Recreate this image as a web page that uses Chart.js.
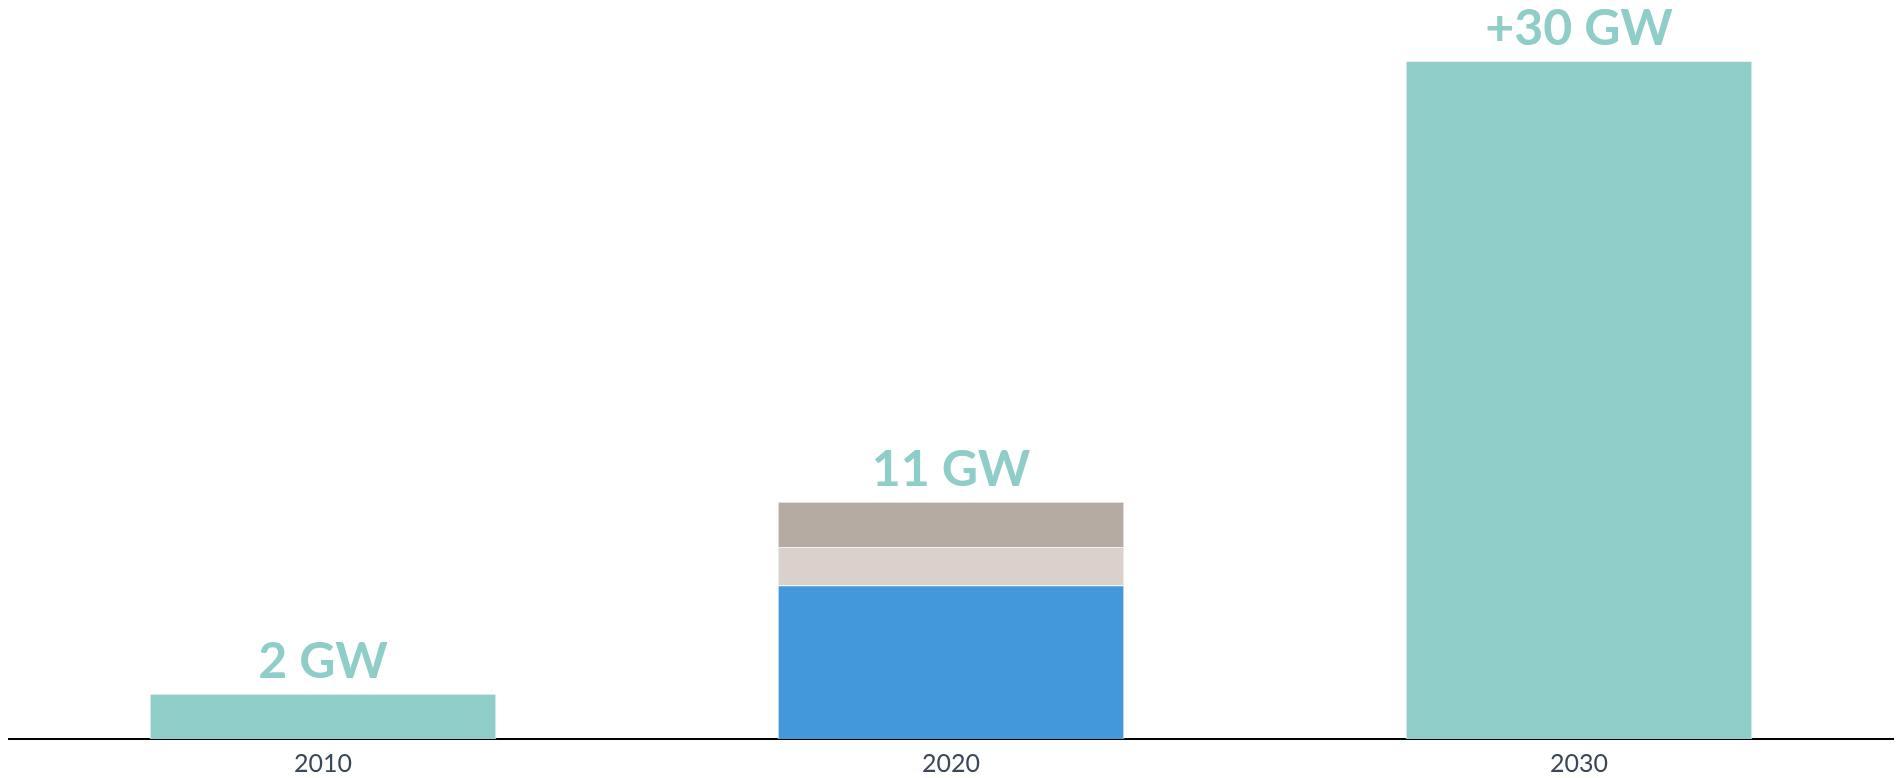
<!DOCTYPE html>
<html>
<head>
<meta charset="utf-8">
<script src="https://cdn.jsdelivr.net/npm/chart.js@4"></script>
<style>
  html, body { margin: 0; padding: 0; background: #ffffff; }
  #wrap { width: 1901px; height: 778px; position: relative; }
</style>
</head>
<body>
<div id="wrap"><canvas id="capacityChart"></canvas></div>
<script>
// chart values
const years = ['2010', '2020', '2030'];
const baseValues = [2, 6.8, 30];
const midValues = [null, 1.7, null];
const topValues = [null, 2.0, null];
const totalLabels = ['2 GW', '11 GW', '+30 GW'];

const teal = '#8fcdc8';
const blue = '#4298da';

// writes the GW total above each stack
const totalsPlugin = {
  id: 'totals',
  afterDatasetsDraw(chart) {
    const ctx = chart.ctx;
    ctx.save();
    ctx.font = 'bold 50px Lato';
    ctx.fillStyle = teal;
    ctx.textAlign = 'center';
    ctx.textBaseline = 'alphabetic';
    years.forEach((_, i) => {
      let top = null;
      let x = null;
      chart.data.datasets.forEach((ds, d) => {
        if (ds.data[i] == null) return;
        const el = chart.getDatasetMeta(d).data[i];
        if (top === null || el.y < top) { top = el.y; x = el.x; }
      });
      ctx.fillText(totalLabels[i], x, top - 16);
    });
    ctx.restore();
  }
};

const ctx = document.getElementById('capacityChart').getContext('2d');
new Chart(ctx, {
  type: 'bar',
  data: {
    labels: years,
    datasets: [
      {
        data: baseValues,
        backgroundColor: [teal, blue, teal],
        borderColor: '#edf1f2',
        borderWidth: 1,
        borderSkipped: 'bottom'
      },
      {
        data: midValues,
        backgroundColor: '#d9d1cc',
        borderColor: '#edf1f2',
        borderWidth: 1,
        borderSkipped: 'bottom'
      },
      {
        data: topValues,
        backgroundColor: '#b5aba3',
        borderColor: '#edf1f2',
        borderWidth: 1,
        borderSkipped: 'bottom'
      }
    ]
  },
  options: {
    responsive: true,
    maintainAspectRatio: false,
    animation: false,
    layout: { padding: { left: 9, right: 8, top: 0, bottom: -11 } },
    plugins: {
      legend: { display: false },
      tooltip: { enabled: false }
    },
    datasets: {
      bar: { barPercentage: 0.552, categoryPercentage: 1.0 }
    },
    scales: {
      x: {
        stacked: true,
        grid: { display: false, drawTicks: false },
        border: { display: true, color: '#000000', width: 2 },
        ticks: {
          color: '#3b4859',
          padding: 10,
          font: { family: 'Lato', size: 25 }
        }
      },
      y: {
        stacked: true,
        display: false,
        min: 0,
        max: 32.7
      }
    }
  },
  plugins: [totalsPlugin]
});
</script>
</body>
</html>
